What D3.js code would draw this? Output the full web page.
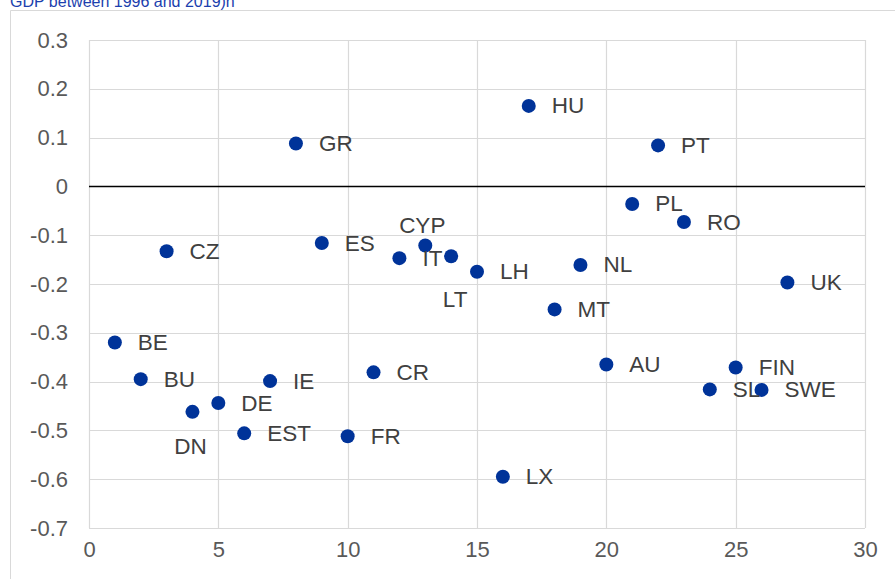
<!DOCTYPE html>
<html>
<head>
<meta charset="utf-8">
<script src="https://cdn.jsdelivr.net/npm/d3@7"></script>
<style>
  html, body { margin: 0; padding: 0; background: #fff; }
  svg { display: block; font-family: "Liberation Sans", Arial, sans-serif; }
</style>
</head>
<body>
<svg id="chart"></svg>
<script>
// country codes, in the order of the x axis
const countries = ['BE', 'BU', 'CZ', 'DN', 'DE', 'EST', 'IE', 'GR', 'ES', 'FR', 'CR', 'IT', 'CYP', 'LT',
  'LH', 'LX', 'HU', 'MT', 'NL', 'AU', 'PL', 'PT', 'RO', 'SL', 'FIN', 'SWE', 'UK']
const xValues = [1, 2, 3, 4, 5, 6, 7, 8, 9, 10, 11, 12, 13, 14, 15, 16, 17, 18, 19, 20, 21, 22, 23, 24, 25, 26, 27]
const yValues = [-0.32, -0.395, -0.133, -0.462, -0.444, -0.506, -0.399, 0.088, -0.116, -0.512, -0.381, -0.147,
  -0.121, -0.143, -0.175, -0.595, 0.165, -0.252, -0.161, -0.365, -0.036, 0.084, -0.073, -0.416, -0.371, -0.417, -0.197]
const xTicks = [0, 5, 10, 15, 20, 25, 30]
const yTicks = [0.3, 0.2, 0.1, 0, -0.1, -0.2, -0.3, -0.4, -0.5, -0.6, -0.7]
const title = 'GDP between 1996 and 2019)n'

const data = countries.map((c, i) => ({ code: c, x: xValues[i], y: yValues[i] }))

const W = 895
const H = 579
const margin = { top: 40, right: 30, bottom: 51, left: 89 }
const width = W - margin.left - margin.right
const height = H - margin.top - margin.bottom

const svg = d3.select('#chart').attr('width', W).attr('height', H)

// blue title, cut off at the top like in the source
svg.append('text')
  .attr('x', 10)
  .attr('y', 7)
  .style('font-size', '16px')
  .style('fill', '#1c3fae')
  .text(title)

// outer chart frame
svg.append('path')
  .attr('d', `M10.5,${H} V10.5 H${W}`)
  .attr('fill', 'none')
  .attr('stroke', '#d9d9d9')
  .attr('stroke-width', 1)

const g = svg.append('g').attr('transform', `translate(${margin.left},${margin.top})`)

const x = d3.scaleLinear().domain([0, 30]).range([0, width])
const y = d3.scaleLinear().domain([-0.7, 0.3]).range([height, 0])

// grid
g.selectAll('.ygrid')
  .data(yTicks)
  .join('line')
  .attr('x1', 0)
  .attr('x2', width)
  .attr('y1', (d) => Math.round(y(d)) + 0.5)
  .attr('y2', (d) => Math.round(y(d)) + 0.5)
  .attr('stroke', '#d9d9d9')
  .attr('stroke-width', 1.2)

g.selectAll('.xgrid')
  .data(xTicks)
  .join('line')
  .attr('x1', (d) => Math.round(x(d)) + 0.5)
  .attr('x2', (d) => Math.round(x(d)) + 0.5)
  .attr('y1', 0)
  .attr('y2', height)
  .attr('stroke', '#d9d9d9')
  .attr('stroke-width', 1.2)

// zero line on top of the grid
g.append('line')
  .attr('x1', 0)
  .attr('x2', width)
  .attr('y1', y(0))
  .attr('y2', y(0))
  .attr('stroke', '#000')
  .attr('stroke-width', 1.5)

// y axis (plain hyphen for negatives)
g.append('g')
  .call(d3.axisLeft(y).tickValues(yTicks).tickSize(0).tickPadding(21).tickFormat((d) => String(+d.toFixed(1))))
  .call((a) => a.select('.domain').remove())
  .call((a) => a.selectAll('text')
    .style('font-size', '22px')
    .style('font-family', '"Liberation Sans", Arial, sans-serif')
    .attr('fill', '#595959'))

// x axis
g.append('g')
  .attr('transform', `translate(0,${height})`)
  .call(d3.axisBottom(x).tickValues(xTicks).tickSize(0).tickPadding(13))
  .call((a) => a.select('.domain').remove())
  .call((a) => a.selectAll('text')
    .style('font-size', '22px')
    .style('font-family', '"Liberation Sans", Arial, sans-serif')
    .attr('fill', '#595959'))

// points
g.selectAll('.dot')
  .data(data)
  .join('circle')
  .attr('cx', (d) => x(d.x))
  .attr('cy', (d) => y(d.y))
  .attr('r', 7)
  .attr('fill', '#003399')

// labels: right of the dot, except a few moved by hand
const labelPos = {
  CYP: { dx: -3, dy: -12, anchor: 'middle', base: 'auto' },
  LT: { dx: 4, dy: 43, anchor: 'middle', base: 'central' },
  DN: { dx: -2, dy: 35, anchor: 'middle', base: 'central' }
}
g.selectAll('.lbl')
  .data(data)
  .join('text')
  .attr('x', (d) => x(d.x) + (labelPos[d.code] ? labelPos[d.code].dx : 23))
  .attr('y', (d) => y(d.y) + (labelPos[d.code] ? labelPos[d.code].dy : 0))
  .attr('text-anchor', (d) => (labelPos[d.code] ? labelPos[d.code].anchor : 'start'))
  .attr('dominant-baseline', (d) => (labelPos[d.code] ? labelPos[d.code].base : 'central'))
  .style('font-size', '22.5px')
  .style('fill', '#404040')
  .text((d) => d.code)
</script>
</body>
</html>
